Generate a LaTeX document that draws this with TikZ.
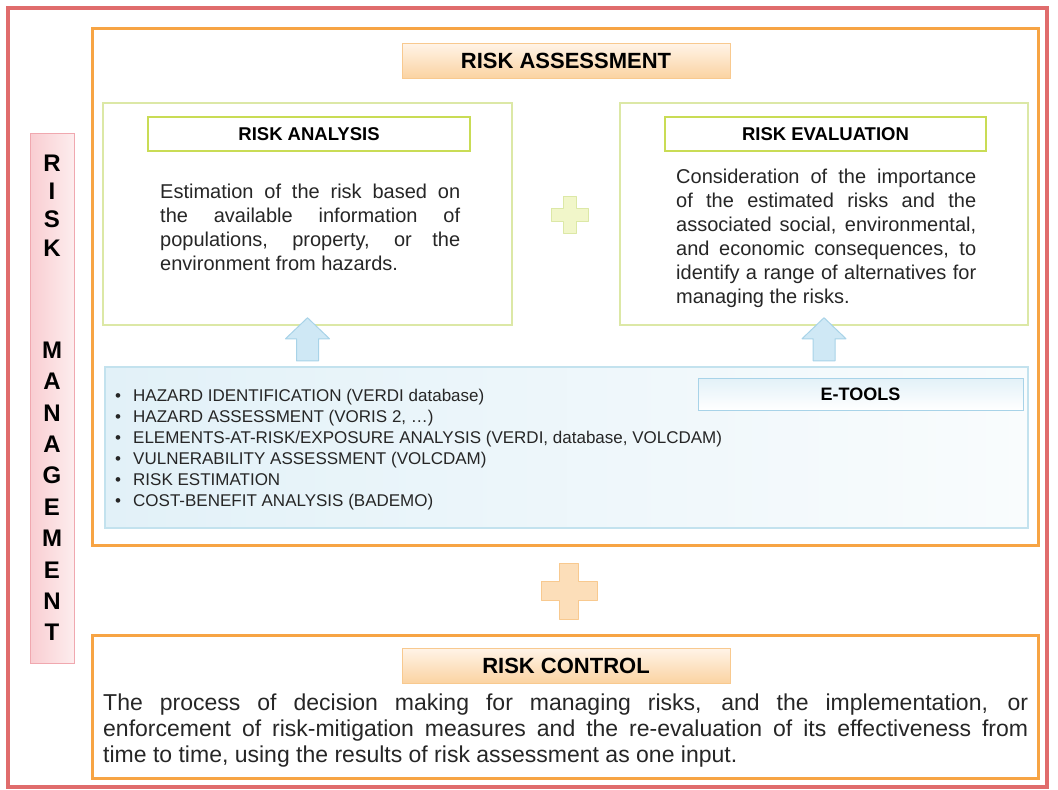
\documentclass[tikz,border=0pt]{standalone}
\usepackage{fontspec}
\setmainfont{Liberation Sans}
\usetikzlibrary{positioning,calc}

\definecolor{frameRed}{HTML}{E06C6C}
\definecolor{frameOrange}{HTML}{F7A444}
\definecolor{peachTop}{HTML}{FFF4E8}
\definecolor{peachBot}{HTML}{FBD3A2}
\definecolor{peachLine}{HTML}{F8C98F}
\definecolor{limeLine}{HTML}{DCE8A6}
\definecolor{limeDark}{HTML}{C9DC55}
\definecolor{limeFill}{HTML}{F1F6C9}
\definecolor{skyFill}{HTML}{CFE8F5}
\definecolor{skyLine}{HTML}{A8D3E8}
\definecolor{iceLeft}{HTML}{E2F1F8}
\definecolor{iceRight}{HTML}{F9FCFD}
\definecolor{iceLine}{HTML}{C3E2EE}
\definecolor{pinkLeft}{HTML}{F9CDD1}
\definecolor{pinkRight}{HTML}{FDEDEE}
\definecolor{pinkLine}{HTML}{F0A8AF}
\definecolor{txtGrey}{HTML}{262626}

\newcommand{\toolitem}[1]{\makebox[18pt][l]{\textbullet}#1}

\tikzset{
  titlebox/.style={draw=peachLine, line width=1pt, top color=peachTop, bottom color=peachBot,
    minimum width=328, minimum height=35, inner sep=0pt, font=\bfseries\fontsize{22}{26}\selectfont},
  limebox/.style={draw=limeLine, line width=1.5pt, fill=white, inner sep=0pt},
  limetitle/.style={draw=limeDark, line width=2pt, fill=white, minimum height=34, inner sep=0pt,
    font=\bfseries\fontsize{18.5}{22}\selectfont},
  bodytext/.style={inner sep=0pt, align=justify, text=txtGrey, anchor=north west},
  barletter/.style={inner sep=0pt, font=\bfseries\fontsize{24}{28}\selectfont},
  plussign/.pic={\filldraw[pic actions, line join=round] (-0.33,-1) -- (0.33,-1) -- (0.33,-0.33)
    -- (1,-0.33) -- (1,0.33) -- (0.33,0.33) -- (0.33,1) -- (-0.33,1) -- (-0.33,0.33)
    -- (-1,0.33) -- (-1,-0.33) -- (-0.33,-0.33) -- cycle;},
  upblock/.pic={\filldraw[pic actions, line join=round] (0,0) -- (22,21) -- (11,21) -- (11,43)
    -- (-11,43) -- (-11,21) -- (-22,21) -- cycle;}
}

\begin{document}
\begin{tikzpicture}[x=1pt, y=-1pt]
  \useasboundingbox (0,0) rectangle (1058,790);

  % frames
  \draw[frameRed, line width=4pt] (8,8) rectangle (1047,787);
  \draw[frameOrange, line width=3pt] (92,28) rectangle (1038,545);
  \draw[frameOrange, line width=3pt] (92,635) rectangle (1038,778);

  % risk management bar
  \node[draw=pinkLine, line width=1pt, left color=pinkLeft, right color=pinkRight,
    minimum width=44, minimum height=530, inner sep=0pt] (bar) at (52,398) {};
  \foreach \ch [count=\i from 0] in {R,I,S,K}
    \node[barletter] (risk\i) at (52,163+28.3*\i) {\ch};
  \foreach \ch [count=\i from 0] in {M,A,N,A,G,E,M,E,N,T}
    \node[barletter] (mgmt\i) at (52,350+31.4*\i) {\ch};

  % risk assessment
  \node[titlebox] (assess) at (566,60.5) {RISK ASSESSMENT};

  \node[limebox, minimum width=409, minimum height=222] (analysis) at (307.5,214) {};
  \node[limetitle, minimum width=322] (analysistitle) at (309,134) {RISK ANALYSIS};
  \node[bodytext, text width=300, font=\fontsize{20}{24}\selectfont] (analysistext) at (160,184)
    {Estimation of the risk based on\linebreak the available information of\linebreak
     populations, property, or the\linebreak environment from hazards.};

  \node[limebox, minimum width=408, minimum height=222] (evaluation) at (824,214) {};
  \node[limetitle, minimum width=321] (evaluationtitle) at (825.5,134) {RISK EVALUATION};
  \node[bodytext, text width=300, font=\fontsize{20}{24}\selectfont] (evaluationtext) at (676,168.5)
    {Consideration of the importance\linebreak of the estimated risks and the\linebreak
     associated social, environmental,\linebreak and economic consequences, to\linebreak
     identify a range of alternatives for\linebreak managing the risks.};

  \pic[fill=limeFill, draw=limeLine, line width=1pt, scale=18.5] at (570,215) {plussign};

  % e-tools
  \node[draw=iceLine, line width=1.5pt, left color=iceLeft, right color=iceRight,
    minimum width=923, minimum height=161, inner sep=0pt] (etools) at (566.5,447.5) {};
  \node[draw=skyLine, line width=1pt, top color=iceLeft, bottom color=white,
    minimum width=325, minimum height=32, inner sep=0pt,
    font=\bfseries\fontsize{18}{22}\selectfont] (etoolstitle) at (860.5,394) {E-TOOLS};
  \node[inner sep=0pt, align=left, text=txtGrey, anchor=west,
    font=\fontsize{17}{21}\selectfont] (toollist) at (115,449.5)
    {\toolitem{HAZARD IDENTIFICATION (VERDI database)}\\
     \toolitem{HAZARD ASSESSMENT (VORIS 2, …)}\\
     \toolitem{ELEMENTS-AT-RISK/EXPOSURE ANALYSIS (VERDI, database, VOLCDAM)}\\
     \toolitem{VULNERABILITY ASSESSMENT (VOLCDAM)}\\
     \toolitem{RISK ESTIMATION}\\
     \toolitem{COST-BENEFIT ANALYSIS (BADEMO)}};

  \pic[fill=skyFill, draw=skyLine, line width=1pt] at ([yshift=8pt]analysis.south) {upblock};
  \pic[fill=skyFill, draw=skyLine, line width=1pt] at ([yshift=8pt]evaluation.south) {upblock};

  % risk control
  \pic[fill=peachBot!75!white, draw=peachLine, line width=1pt, scale=28] at (569,591) {plussign};
  \node[titlebox] (control) at (566,665.5) {RISK CONTROL};
  \node[bodytext, text width=925, font=\fontsize{23}{26}\selectfont] (controltext) at (103,694)
    {The process of decision making for managing risks, and the implementation, or\linebreak
     enforcement of risk-mitigation measures and the re-evaluation of its effectiveness from\linebreak
     time to time, using the results of risk assessment as one input.};
\end{tikzpicture}
\end{document}
